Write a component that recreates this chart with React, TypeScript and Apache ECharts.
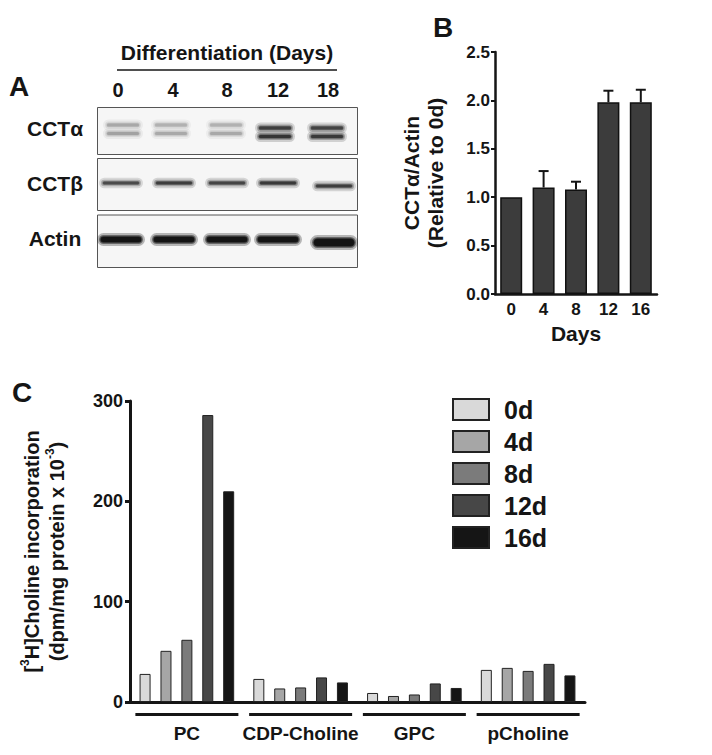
import React, { useEffect, useRef } from "react";
import * as echarts from "echarts";

// ---- Panel B data ----
const days = ["0", "4", "8", "12", "16"];
const cctRatio = [1.0, 1.1, 1.08, 1.98, 1.98];
const cctRatioErr = [0, 0.17, 0.08, 0.12, 0.13];

// ---- Panel C data ----
const metabolites = ["PC", "CDP-Choline", "GPC", "pCholine"];
const seriesNames = ["0d", "4d", "8d", "12d", "16d"];
const d0 = [28, 23, 9, 32];
const d4 = [51, 13.5, 6, 34];
const d8 = [62, 14.5, 7.5, 31];
const d12 = [286, 24.5, 18.5, 38];
const d16 = [210, 19.5, 14, 26.5];
const seriesValues = [d0, d4, d8, d12, d16];

// ---- Panel A (western blot) ----
const blotLanes = ["0", "4", "8", "12", "18"];
const blotRows = ["CCTα", "CCTβ", "Actin"];
const cctAlphaIntensity = [0.28, 0.25, 0.25, 0.95, 0.9];
const cctBetaIntensity = [0.75, 0.85, 0.8, 0.9, 0.85];
const actinIntensity = [1, 1, 1, 1, 1];

const FONT = "'Liberation Sans', Arial, Helvetica, sans-serif";
const INK = "#151515";
const barColors = ["#d9d9d9", "#a6a6a6", "#7b7b7b", "#474747", "#151515"];

function txt(text: string, x: number, y: number, size: number, align = "center") {
  return {
    type: "text",
    x,
    y,
    style: {
      text,
      fill: INK,
      fontSize: size,
      fontWeight: "bold",
      fontFamily: FONT,
      align,
      verticalAlign: "middle",
      textAlign: align,
      textVerticalAlign: "middle",
    },
  };
}

function band(cx: number, cy: number, w: number, h: number, a: number) {
  const layers = [
    [8, 8, 0.18],
    [4, 4, 0.3],
    [1.5, 1.5, 0.45],
    [0, 0, 0.6],
  ];
  return layers.map(([dw, dh, k]) => ({
    type: "rect",
    shape: {
      x: cx - (w + dw) / 2,
      y: cy - (h + dh) / 2,
      width: w + dw,
      height: h + dh,
      r: (h + dh) / 2,
    },
    style: { fill: `rgba(20,20,20,${Math.min(1, a * k)})` },
  }));
}

function buildBlot() {
  const els: any[] = [];
  const laneA = [123, 171, 226, 275, 327];
  const laneB = [121, 174, 227, 278, 334];
  const numX = [118, 173, 227, 278, 328];
  els.push(txt("A", 19, 86, 28));
  els.push(txt("B", 443, 27, 28));
  els.push(txt("C", 22, 392, 28));
  els.push(txt("Differentiation (Days)", 227, 52, 21));
  els.push({
    type: "line",
    shape: { x1: 117, y1: 70, x2: 337, y2: 70 },
    style: { stroke: INK, lineWidth: 1.5 },
  });
  blotLanes.forEach((l, i) => els.push(txt(l, numX[i], 90, 20)));
  const boxes = [
    [107.5, 47],
    [158.5, 52],
    [215, 52.5],
  ];
  boxes.forEach(([y, h]) =>
    els.push({
      type: "rect",
      shape: { x: 97.5, y, width: 260, height: h },
      style: { fill: "#f6f6f6", stroke: "#555", lineWidth: 1 },
    })
  );
  const rowY = [128, 183, 238];
  blotRows.forEach((r, i) => els.push(txt(r, 55, rowY[i], 21)));
  // CCTα doublet
  cctAlphaIntensity.forEach((a, i) => {
    const dy = i >= 3 ? 3 : 0;
    const h = i >= 3 ? 3 : 3;
    els.push(...band(laneA[i], 125 + dy, 32, h, a * 0.9));
    els.push(...band(laneA[i], 133.5 + dy, 32, h, a));
  });
  // CCTβ
  cctBetaIntensity.forEach((a, i) => {
    const cy = i === 4 ? 186 : 183;
    els.push(...band(laneB[i], cy, 36, 2.5, a));
  });
  // Actin
  actinIntensity.forEach((a, i) => {
    const cy = i === 4 ? 242.5 : 239.5;
    const h = i === 4 ? 7 : 5;
    els.push(...band(laneB[i], cy, 40, h, a * 1.6));
  });
  return els;
}

export default function App() {
  const ref = useRef<HTMLDivElement>(null);
  useEffect(() => {
    if (!ref.current) return;
    const chart = echarts.init(ref.current, null, { renderer: "svg" });
    const axisLabelBase = { color: INK, fontWeight: "bold", fontFamily: FONT };
    const option: any = {
      animation: false,
      backgroundColor: "#ffffff",
      textStyle: { fontFamily: FONT },
      grid: [
        { left: 495, top: 52, width: 162, height: 242 },
        { left: 130, top: 401, width: 455, height: 301 },
      ],
      legend: {
        data: seriesNames,
        orient: "vertical",
        left: 452,
        top: 397,
        padding: 0,
        itemWidth: 36,
        itemHeight: 21,
        itemGap: 7,
        icon: "rect",
        textStyle: {
          ...axisLabelBase,
          fontSize: 25,
          padding: [0, 0, 0, 10],
        },
      },
      xAxis: [
        {
          type: "category",
          gridIndex: 0,
          data: days,
          axisTick: { show: false },
          axisLine: { lineStyle: { color: INK, width: 2.5 } },
          axisLabel: { ...axisLabelBase, fontSize: 17, margin: 7 },
          name: "Days",
          nameLocation: "middle",
          nameGap: 29,
          nameTextStyle: { ...axisLabelBase, fontSize: 21 },
        },
        {
          type: "category",
          gridIndex: 1,
          data: metabolites,
          axisTick: { show: false },
          axisLine: { lineStyle: { color: INK, width: 3 } },
          axisLabel: {
            interval: 0,
            margin: 11,
            formatter: (v: string) => `{bar|}\n{t|${v}}`,
            rich: {
              bar: { width: 103, height: 3, lineHeight: 3, backgroundColor: INK },
              t: { ...axisLabelBase, fontSize: 19, lineHeight: 34 },
            },
          },
        },
      ],
      yAxis: [
        {
          type: "value",
          gridIndex: 0,
          min: 0,
          max: 2.5,
          interval: 0.5,
          splitLine: { show: false },
          axisLine: { show: true, lineStyle: { color: INK, width: 2.5 } },
          axisTick: { show: true, length: 4, lineStyle: { color: INK, width: 2 } },
          axisLabel: {
            ...axisLabelBase,
            fontSize: 17,
            margin: 5,
            formatter: (v: number) => v.toFixed(1),
          },
          name: "CCTα/Actin\n(Relative to 0d)",
          nameLocation: "middle",
          nameRotate: 90,
          nameGap: 48,
          nameTextStyle: { ...axisLabelBase, fontSize: 21, lineHeight: 24 },
        },
        {
          type: "value",
          gridIndex: 1,
          min: 0,
          max: 300,
          interval: 100,
          splitLine: { show: false },
          axisLine: { show: true, lineStyle: { color: INK, width: 3 } },
          axisTick: { show: true, length: 5, lineStyle: { color: INK, width: 3 } },
          axisLabel: { ...axisLabelBase, fontSize: 18, margin: 7 },
          name:
            "{n|[}{s|3}{n|H]Choline incorporation}\n{n|(dpm/mg protein x 10}{s|-3}{n|)}",
          nameLocation: "middle",
          nameRotate: 90,
          nameGap: 61,
          nameTextStyle: {
            rich: {
              n: { ...axisLabelBase, fontSize: 20, lineHeight: 25 },
              s: { ...axisLabelBase, fontSize: 12, lineHeight: 14, verticalAlign: "top" },
            },
          },
        },
      ],
      series: [
        {
          name: "CCTα/Actin",
          type: "bar",
          xAxisIndex: 0,
          yAxisIndex: 0,
          data: cctRatio,
          barWidth: 22,
          itemStyle: { color: "#3c3c3c", borderColor: "#111", borderWidth: 1.5 },
        },
        {
          name: "SEM",
          type: "custom",
          xAxisIndex: 0,
          yAxisIndex: 0,
          encode: { x: 0, y: 1 },
          z: 5,
          data: days.map((_, i) => [i, cctRatio[i], cctRatioErr[i]]),
          renderItem: (_params: any, api: any) => {
            const i = api.value(0);
            const v = api.value(1);
            const e = api.value(2);
            if (!e) return { type: "group", children: [] };
            const p0 = api.coord([i, v]);
            const p1 = api.coord([i, v + e]);
            const half = 5;
            return {
              type: "group",
              children: [
                {
                  type: "line",
                  shape: { x1: p0[0], y1: p0[1], x2: p1[0], y2: p1[1] },
                  style: { stroke: INK, lineWidth: 2 },
                },
                {
                  type: "line",
                  shape: { x1: p1[0] - half, y1: p1[1], x2: p1[0] + half, y2: p1[1] },
                  style: { stroke: INK, lineWidth: 2 },
                },
              ],
            };
          },
        },
        ...seriesNames.map((n, k) => ({
          name: n,
          type: "bar",
          xAxisIndex: 1,
          yAxisIndex: 1,
          data: seriesValues[k],
          barWidth: 11,
          barGap: "90%",
          itemStyle: { color: barColors[k], borderColor: "#222", borderWidth: 1 },
        })),
      ],
      graphic: buildBlot(),
    };
    chart.setOption(option);
    return () => chart.dispose();
  }, []);
  return (
    <div
      ref={ref}
      style={{ position: "absolute", left: 0, top: 0, width: 712, height: 755 }}
    />
  );
}
